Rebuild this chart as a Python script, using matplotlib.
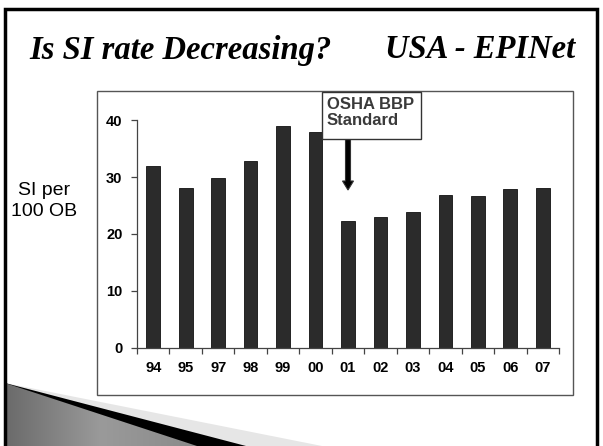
import matplotlib
matplotlib.use("Agg")
import matplotlib.pyplot as plt
import numpy as np
from matplotlib.patches import Polygon, Rectangle, FancyArrow
from matplotlib.colors import LinearSegmentedColormap

years = ["94", "95", "97", "98", "99", "00", "01", "02", "03", "04", "05", "06", "07"]
rates = [32.0, 28.0, 29.8, 32.9, 39.0, 37.9, 22.2, 22.9, 23.9, 26.8, 26.7, 27.9, 28.0]
yticks = [0, 10, 20, 30, 40]
title_left = "Is SI rate Decreasing?"
title_right = "USA - EPINet"
ylabel = "SI per\n100 OB"
note = "OSHA BBP\nStandard"

W, H = 603, 446
fig = plt.figure(figsize=(6.03, 4.46), dpi=100)
fig.patch.set_facecolor("white")

# background overlay in pixel coordinates
bg = fig.add_axes([0, 0, 1, 1], zorder=0)
bg.axis("off")

# bottom-left decoration
apex = (5, 383)
bg.add_patch(Polygon([apex, (322, 446), (5, 446)], closed=True, fc="#e6e6e6", ec="none"))
bg.add_patch(Polygon([apex, (246, 446), (5, 446)], closed=True, fc="black", ec="none"))
gray_poly = Polygon([apex, (197, 446), (5, 446)], closed=True, fc="none", ec="none")
bg.add_patch(gray_poly)
cmap = LinearSegmentedColormap.from_list("g", ["#6a6a6a", "#9a9a9a", "#8a8a8a"])
grad = np.linspace(0, 1, 256).reshape(1, -1)
im = bg.imshow(grad, extent=(5, 197, 446, 383), cmap=cmap, aspect="auto", zorder=1)
im.set_clip_path(gray_poly)

# slide border
bg.plot([5, 5, 597, 597], [447, 9, 9, 447], color="black", lw=2.5,
        solid_joinstyle="miter", zorder=3)
# chart frame
bg.add_patch(Rectangle((97, 91), 476, 304, fill=False, ec="#555555", lw=1.0, zorder=2))
bg.set_xlim(0, W)
bg.set_ylim(H, 0)

# title
tfont = dict(family="Liberation Serif", weight="bold", style="italic", fontsize=23.5)
bg.text(29, 50, title_left, ha="left", va="center", **tfont)
bg.text(575, 50, title_right, ha="right", va="center", **tfont)

# side label
bg.text(44, 201, ylabel, ha="center", va="center", family="Liberation Sans",
        fontsize=14, linespacing=1.28)

# main axes
ax = fig.add_axes([137 / W, (H - 347.5) / H, 422 / W, 227.3 / H], zorder=2)
ax.patch.set_alpha(0)
x = np.arange(len(years))
ax.bar(x, rates, width=0.42, color="#2b2b2b", edgecolor="#111111", lw=0.6, zorder=2)
ax.set_xlim(-0.5, len(years) - 0.5)
ax.set_ylim(0, 40)
for s in ["top", "right"]:
    ax.spines[s].set_visible(False)
for s in ["left", "bottom"]:
    ax.spines[s].set_color("#444444")
    ax.spines[s].set_linewidth(0.9)

ax.set_xticks(np.arange(-0.5, len(years), 1.0))
ax.set_xticklabels([])
ax.set_xticks(x, minor=True)
ax.set_xticklabels(years, minor=True, family="Liberation Sans", fontweight="bold", fontsize=10.5)
ax.tick_params(axis="x", which="minor", length=0, pad=10)
ax.tick_params(axis="x", which="major", length=4, width=0.9, color="#444444", direction="out")
ax.set_yticks(yticks)
ax.set_yticklabels([str(v) for v in yticks], family="Liberation Sans", fontweight="bold", fontsize=10.5)
ax.tick_params(axis="y", length=4, width=0.9, color="#444444", pad=6.5, direction="out")

# top overlay for annotation
top = fig.add_axes([0, 0, 1, 1], zorder=5)
top.axis("off")
top.patch.set_alpha(0)
top.set_xlim(0, W)
top.set_ylim(H, 0)
top.add_patch(FancyArrow(348, 139, 0, 51, width=5, head_width=11, head_length=9,
                         length_includes_head=True, fc="black", ec="#333333", lw=0.8))
top.add_patch(Rectangle((322, 92), 99, 47, fc="white", ec="#333333", lw=1.0))
top.text(327, 97, note, ha="left", va="top", family="Liberation Sans", fontweight="bold",
         fontsize=12, color="#3a3a3a", linespacing=1.05)

fig.savefig("out.png", dpi=100)
